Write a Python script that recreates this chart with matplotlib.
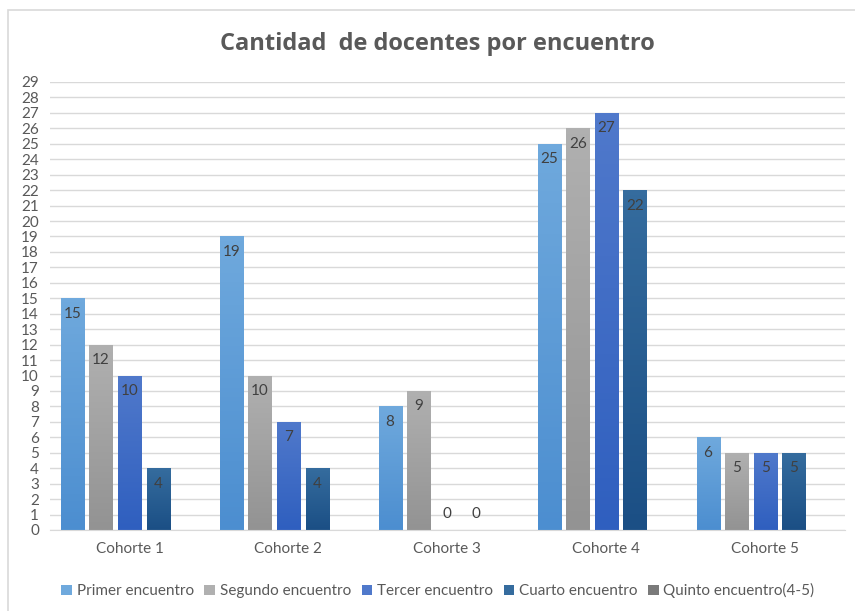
import numpy as np
import matplotlib.pyplot as plt
from matplotlib.patches import Rectangle
from matplotlib.colors import LinearSegmentedColormap

plt.rcParams['font.family'] = ['Lato', 'DejaVu Sans']

cohortes = ['Cohorte 1', 'Cohorte 2', 'Cohorte 3', 'Cohorte 4', 'Cohorte 5']
series = ['Primer encuentro', 'Segundo encuentro', 'Tercer encuentro',
          'Cuarto encuentro', 'Quinto encuentro(4-5)']
primer = [15, 19, 8, 25, 6]
segundo = [12, 10, 9, 26, 5]
tercer = [10, 7, 0, 27, 5]
cuarto = [4, 4, 0, 22, 5]
quinto = [np.nan, np.nan, np.nan, np.nan, np.nan]
valores = [primer, segundo, tercer, cuarto, quinto]

# (top, bottom) colours for the gradient fill
colores = [('#6FA9DD', '#4C8ED0'), ('#B0B0B0', '#939393'), ('#5079CB', '#2F5FBF'),
           ('#356C9E', '#1B4F85'), ('#7A7A7A', '#555555')]

fig = plt.figure(figsize=(8.55, 6.11), dpi=100)
ax = fig.add_axes([0.0585, 0.1326, 0.9295, 0.7332])
fig.patches.append(Rectangle((0.009, -0.01), 1.0, 0.994, transform=fig.transFigure,
                             fill=False, edgecolor='#D9D9D9', lw=1.2))

x = np.arange(len(cohortes))
slot = 0.18
ancho = 0.145
for i, (nombre, vals) in enumerate(zip(series, valores)):
    top, bot = colores[i]
    bars = ax.bar(x + (i - 2) * slot, vals, ancho, color=top, label=nombre, zorder=2)
    cmap = LinearSegmentedColormap.from_list('g%d' % i, [bot, top])
    for b, v in zip(bars, vals):
        if np.isnan(v):
            continue
        if v > 0:
            x0, w, h = b.get_x(), b.get_width(), b.get_height()
            im = ax.imshow(np.linspace(0, 1, 64).reshape(-1, 1), cmap=cmap, aspect='auto',
                           origin='lower', extent=(x0, x0 + w, 0, h), zorder=2.5)
            im.set_clip_path(b)
            ax.text(b.get_x() + w / 2, h - 0.55, str(int(v)), ha='center', va='top',
                    fontsize=11, color='#404040', zorder=3)
        else:
            ax.text(b.get_x() + b.get_width() / 2, 0.55, '0', ha='center', va='bottom',
                    fontsize=11, color='#404040', zorder=3)

ax.set_xlim(-0.5, len(cohortes) - 0.5)
ax.set_ylim(0, 29)
ax.set_yticks(range(0, 30))
ax.set_xticks(x)
ax.set_xticklabels(cohortes)
ax.tick_params(axis='both', length=0, labelsize=11, colors='#595959')
ax.tick_params(axis='x', pad=9)
ax.tick_params(axis='y', pad=8)
ax.grid(axis='y', color='#D9D9D9', lw=1, zorder=0)
for s in ['top', 'right', 'left']:
    ax.spines[s].set_visible(False)
ax.spines['bottom'].set_color('#D9D9D9')
ax.set_axisbelow(True)

fig.text(0.511, 0.928, 'Cantidad  de docentes por encuentro', ha='center', va='center',
         fontsize=17, fontweight='bold', color='#595959', family=['Open Sans', 'DejaVu Sans'])

leg = ax.legend(loc='upper center', bbox_to_anchor=(0.488, -0.088), ncol=5, frameon=False,
                fontsize=11, handlelength=0.7, handleheight=0.7, handletextpad=0.3,
                columnspacing=0.7, labelcolor='#595959')

fig.savefig('out.png', dpi=100)
